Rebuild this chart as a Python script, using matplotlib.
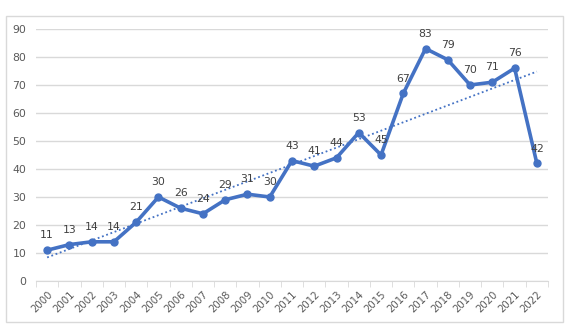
import matplotlib.pyplot as plt
import numpy as np
from matplotlib.patches import Rectangle

years = [str(y) for y in range(2000, 2023)]
counts = [11, 13, 14, 14, 21, 30, 26, 24, 29, 31, 30, 43, 41, 44, 53, 45, 67, 83, 79, 70, 71, 76, 42]

blue = '#4472C4'
grey_text = '#595959'

fig = plt.figure(figsize=(5.66, 3.24), dpi=100)
fig.patches.append(Rectangle((6/566, 2/324), 557/566, 306/324, transform=fig.transFigure,
                             fill=False, edgecolor='#D9D9D9', linewidth=1))

ax = fig.add_axes([36/566, 1 - 281/324, 512/566, 252/324])
x = np.arange(len(years))

# linear trendline
k, b = np.polyfit(x, counts, 1)
ax.plot(x, k * x + b, color=blue, linestyle=(0, (1, 1.5)), linewidth=1.3, zorder=2)

ax.plot(x, counts, color=blue, linewidth=2.6, marker='o', markersize=5, zorder=3)
for xi, v in zip(x, counts):
    ax.annotate(str(v), (xi, v), xytext=(0, 7), textcoords='offset points',
                ha='center', va='bottom', fontsize=7.8, color='#404040')

ax.set_xlim(-0.5, len(years) - 0.5)
ax.set_ylim(0, 90)
ax.set_yticks(range(0, 91, 10))
ax.grid(axis='y', color='#D9D9D9', linewidth=1)
ax.set_axisbelow(True)

ax.set_xticks(x)
ax.set_xticklabels(years, rotation=45, ha='right', rotation_mode='anchor', fontsize=7.3, color=grey_text)
ax.tick_params(axis='x', length=0, pad=6)
ax.set_xticks(np.arange(-0.5, len(years)), minor=True)
ax.tick_params(axis='x', which='minor', length=4, color='#D9D9D9')
ax.tick_params(axis='y', length=0, labelsize=7.8, labelcolor=grey_text, pad=7)

for s in ['top', 'right', 'left']:
    ax.spines[s].set_visible(False)
ax.spines['bottom'].set_color('#D9D9D9')

fig.savefig('out.png', dpi=100)
